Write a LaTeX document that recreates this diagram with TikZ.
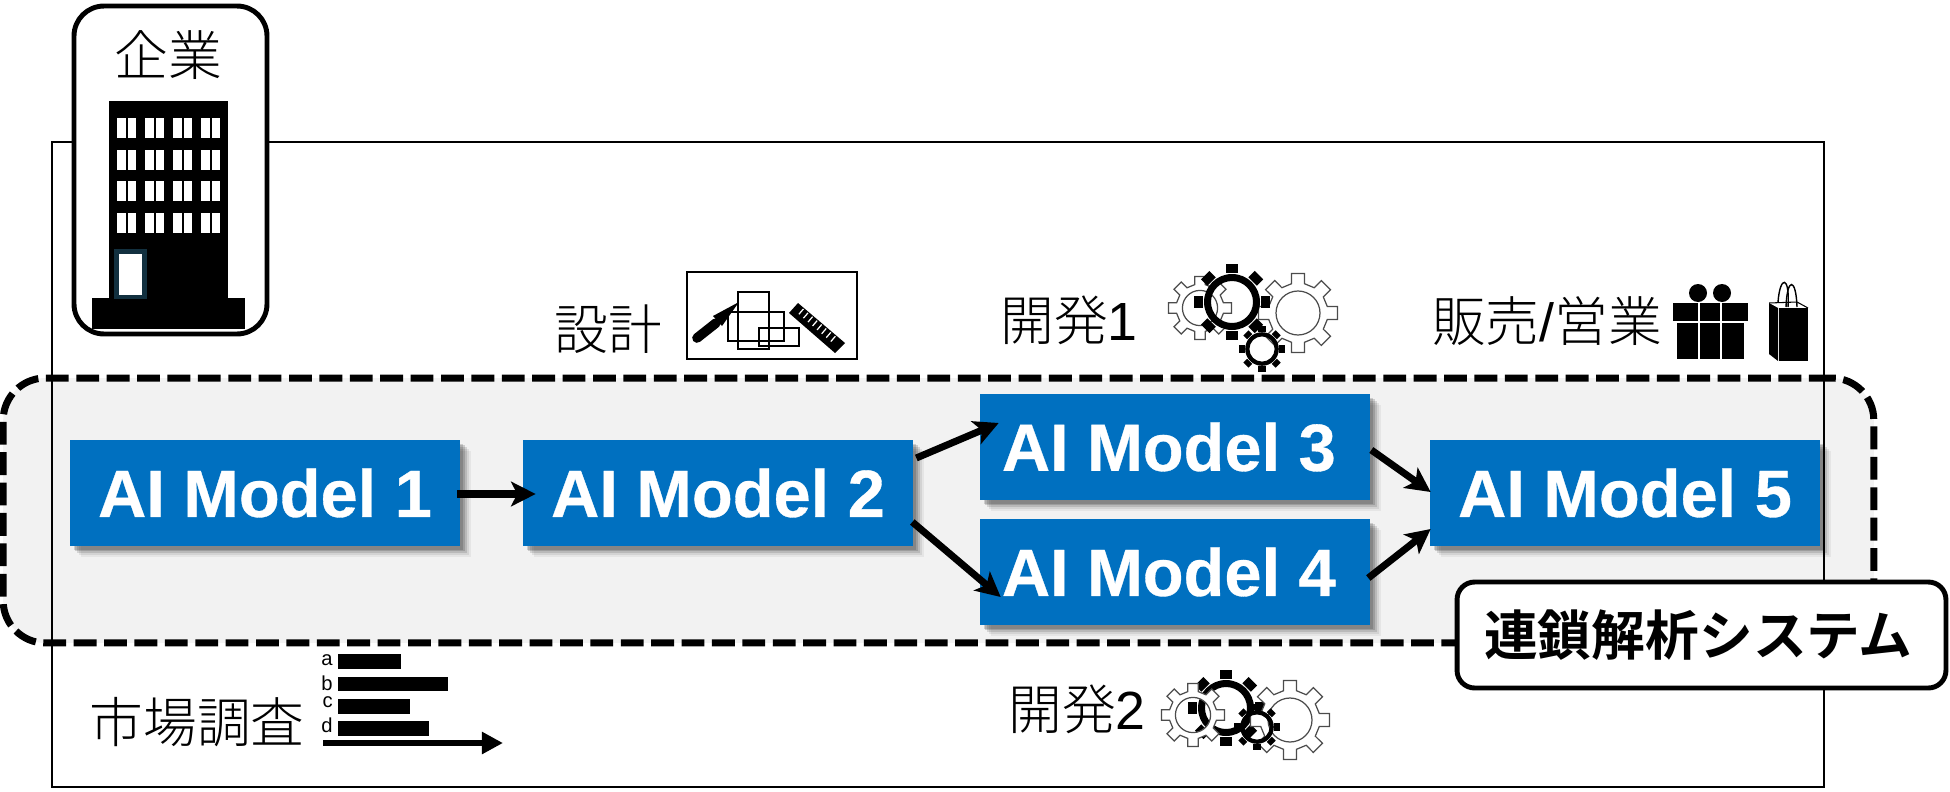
\documentclass[tikz,border=0pt]{standalone}
\usepackage{fontspec}
\setmainfont{Liberation Sans}
\newfontfamily\jpfont{Noto Sans CJK JP Light}
\newfontfamily\jpbold{Noto Sans CJK JP Bold}
\newfontfamily\modelfont[FakeBold=0.5]{Liberation Sans Bold}
\usetikzlibrary{arrows.meta,shadows}
\definecolor{modelblue}{HTML}{0070C0}
\definecolor{chainfill}{HTML}{F2F2F2}
\definecolor{doorblue}{HTML}{12303F}
\tikzset{
  modelbox/.style={rectangle,fill=modelblue,text=white,inner sep=0pt,minimum width=7.8cm,minimum height=2.12cm,
    font=\fontsize{38}{40}\selectfont\modelfont,
    general shadow={shadow xshift=6pt,shadow yshift=-6pt,fill=black,opacity=.05},
    general shadow={shadow xshift=5pt,shadow yshift=-5pt,fill=black,opacity=.08},
    general shadow={shadow xshift=4pt,shadow yshift=-4pt,fill=black,opacity=.12},
    general shadow={shadow xshift=3pt,shadow yshift=-3pt,fill=black,opacity=.15},
    general shadow={shadow xshift=2pt,shadow yshift=-2pt,fill=black,opacity=.15}},
  flow/.style={line width=4pt,-{Stealth[length=14pt,width=14pt,inset=3.5pt]}},
  jplabel/.style={inner sep=0pt,font=\fontsize{30.6}{32}\selectfont\jpfont},
  lightgear/.style={draw=black!70,line width=.7pt,fill=white,even odd rule},
  thinline/.style={draw=black,line width=1.1pt}
}
\newcommand{\lightgear}[3]{
  \begin{scope}[shift={(#1,#2)},scale=#3]
    \path[lightgear] (-12.4:30) \foreach \a in {0,45,...,315}{ -- (\a-12.4:30) -- (\a-9.3:40) -- (\a+9.3:40) -- (\a+12.4:30) } -- cycle (0,0) circle (22);
  \end{scope}
}
\newcommand{\darkgear}[3]{
  \begin{scope}[shift={(#1,#2)},scale=#3]
    \fill[even odd rule] (0,0) circle (28) (0,0) circle (21);
    \foreach \a in {0,45,...,315}
      \fill[rotate=\a] (29,-6) rectangle (38,6);
  \end{scope}
}
\begin{document}
\begin{tikzpicture}[x=0.02cm,y=-0.02cm]
\useasboundingbox (0,0) rectangle (1950,791);
\node[rectangle,fill=chainfill,minimum width=37.42cm,minimum height=5.3cm,rounded corners=24pt,inner sep=0pt] (chain) at (938.5,510.5) {};
\draw[thinline] (52,142) rectangle (1824,787);
\node[rectangle,draw=black,line width=4pt,dash pattern=on 13pt off 4.3pt,minimum width=37.42cm,minimum height=5.3cm,rounded corners=24pt,inner sep=0pt] (chainedge) at (938.5,510.5) {};

\node[rectangle,draw=black,fill=white,line width=2.8pt,rounded corners=17pt,minimum width=3.86cm,minimum height=6.56cm,inner sep=0pt] (company) at (170.5,170) {};
\node[jplabel] (companylabel) at (168,55) {企業};
\fill (109,101) rectangle (228,298);
\fill (92,298) rectangle (245,329);
\foreach \i in {0,...,3}
  \foreach \j in {0,...,3} {
    \fill[white] (117+28*\i,118+31.7*\j) rectangle (126+28*\i,138+31.7*\j);
    \fill[white] (128+28*\i,118+31.7*\j) rectangle (136+28*\i,138+31.7*\j);
  }
\fill[doorblue] (114,249) rectangle (147,299);
\fill[white] (119,254) rectangle (142,295);

\node[jplabel] (designlabel) at (608,329) {設計};
\draw[thinline] (687,272) rectangle (857,359);
\draw[thinline] (738,292) rectangle (769,349);
\draw[thinline] (728,312) rectangle (784,341);
\draw[thinline] (759,328) rectangle (799,346);
\draw[line width=5.5pt,line cap=round] (697,338) -- (716,323);
\fill (713,316) -- (739,302) -- (722,326) -- cycle;
\fill (798,303) -- (845,343) -- (835,353) -- (789,313) -- cycle;
\foreach \t in {8,14,...,50}
  \draw[white,line width=.7pt] (798+.76*\t-.65*1,303+.65*\t+.76*1) -- (798+.76*\t-.65*8,303+.65*\t+.76*8);

\node[jplabel] (devlabela) at (1069,320) {開発\rmfamily 1};
\lightgear{1200}{308}{.8}
\lightgear{1298}{313}{1}
\darkgear{1232}{302}{1}
\darkgear{1262}{349}{.6}

\node[jplabel] (saleslabel) at (1547,321) {販売\rmfamily /\jpfont 営業};
\fill (1698,293) circle (9);
\fill (1722,293) circle (9);
\fill (1673,303) rectangle (1748,321);
\fill (1677,323) rectangle (1744,359);
\draw[white,line width=.7pt] (1699,303) -- (1699,359);
\draw[white,line width=.7pt] (1721,303) -- (1721,359);
\fill (1779,308) rectangle (1808,361);
\fill (1769,303) -- (1778,308) -- (1778,361) -- (1769,354) -- cycle;
\draw[line width=.6pt] (1769,303) -- (1797,302) -- (1808,308);
\draw[line width=.8pt] (1778,302) .. controls (1780,275) and (1790,275) .. (1788,307);
\draw[line width=.8pt] (1786,307) .. controls (1787,277) and (1796,277) .. (1797,307);

\node[modelbox] (modela) at (265,493) {AI Model 1};
\node[modelbox] (modelb) at (718,493) {AI Model 2};
\node[modelbox] (modelc) at (1175,447) {AI Model 3\kern7pt};
\node[modelbox] (modeld) at (1175,572) {AI Model 4\kern7pt};
\node[modelbox] (modele) at (1625,493) {AI Model 5};
\draw[flow] ([shift={(-3,1)}]modela.east) -- ([shift={(13,1)}]modelb.west);
\draw[flow] ([shift={(3,-35)}]modelb.east) -- ([shift={(19,-24)}]modelc.west);
\draw[flow] ([shift={(-1,29)}]modelb.east) -- ([shift={(21,25)}]modeld.west);
\draw[flow] ([shift={(1,3)}]modelc.east) -- ([shift={(1,-1)}]modele.west);
\draw[flow] ([shift={(-2,6)}]modeld.east) -- ([shift={(1,36)}]modele.west);

\node[rectangle,draw=black,fill=white,line width=2.8pt,rounded corners=10pt,minimum width=9.78cm,minimum height=2.12cm,inner sep=0pt,font=\fontsize{30.6}{32}\selectfont\jpbold] (chainlabel) at (1701.5,635) {連鎖解析システム\kern3.5pt};

\node[jplabel] (marketlabel) at (197,722) {市場調査};
\fill (338,654) rectangle (401,669);
\fill (338,677) rectangle (448,691);
\fill (338,699) rectangle (410,714);
\fill (338,721) rectangle (429,736);
\foreach \y/\t in {660/a,683/b,702/c,725/d}
  \node[anchor=east,inner sep=0pt,font=\fontsize{11.5}{12}\selectfont] (bar\t) at (333,\y) {\t};
\coordinate (axisstart) at (323,743);
\coordinate (axisend) at (503,743);
\draw[line width=3pt,-{Triangle[length=12pt,width=12pt]}] (axisstart) -- (axisend);

\node[jplabel] (devlabelb) at (1077,709) {開発\rmfamily 2};
\darkgear{1226}{708}{1}
\lightgear{1193}{715}{.8}
\lightgear{1290}{720}{1}
\darkgear{1257}{727}{.6}
\end{tikzpicture}
\end{document}
